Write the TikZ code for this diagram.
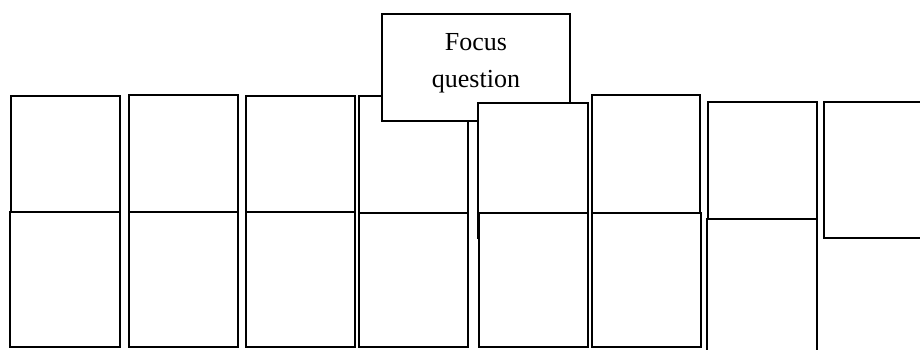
\documentclass[tikz,border=0pt]{standalone}
\usepackage{fontspec}
\setmainfont{Liberation Serif}
\begin{document}
\begin{tikzpicture}[x=1pt,y=-1pt,
  box/.style={draw, line width=2.9pt, fill=white, rectangle, inner sep=0pt, outer sep=0pt, anchor=north west},
  qbox/.style={box, align=center, font=\fontsize{26}{37}\selectfont}]
\useasboundingbox (0,0) rectangle (920,349);
\clip (0,0) rectangle (920,349);
% top row (first four)
\node[box, minimum width=109, minimum height=136] (t1) at (11,96) {};
\node[box, minimum width=109, minimum height=137] (t2) at (129,95) {};
\node[box, minimum width=109, minimum height=136] (t3) at (246,96) {};
\node[box, minimum width=109, minimum height=137] (t4) at (359,96) {};
% focus question
\node[qbox, minimum width=188, minimum height=107] (fq) at (382,14) {};
\node[align=center, font=\fontsize{26}{37}\selectfont, inner sep=0pt] (fqt) at (476,63) {Focus\\question};
% top row (rest)
\node[box, minimum width=110, minimum height=135] (t5) at (478,103) {};
\node[box, minimum width=108, minimum height=137] (t6) at (592,95) {};
\node[box, minimum width=109, minimum height=136] (t7) at (708,102) {};
\node[box, minimum width=110, minimum height=136] (t8) at (824,102) {};
% bottom row
\node[box, minimum width=110, minimum height=135] (b1) at (10,212) {};
\node[box, minimum width=109, minimum height=135] (b2) at (129,212) {};
\node[box, minimum width=109, minimum height=135] (b3) at (246,212) {};
\node[box, minimum width=109, minimum height=134] (b4) at (359,213) {};
\node[box, minimum width=109, minimum height=134] (b5) at (479,213) {};
\node[box, minimum width=109, minimum height=134] (b6) at (592,213) {};
\node[box, minimum width=110, minimum height=140] (b7) at (707,219) {};
\end{tikzpicture}
\end{document}
